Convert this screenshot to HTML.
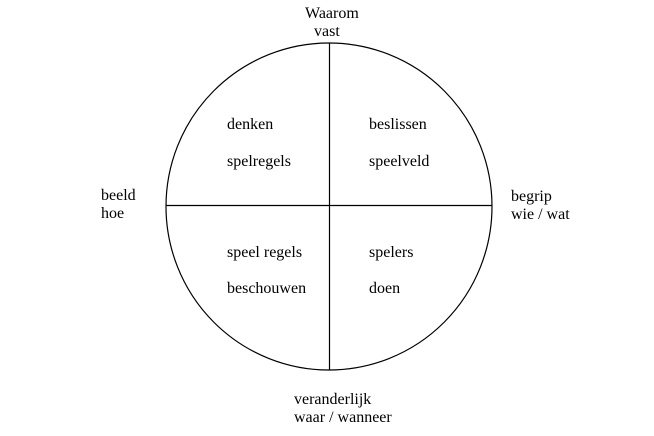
<!DOCTYPE html>
<html><head><meta charset="utf-8"><style>
html,body{margin:0;padding:0;background:#fff;}
svg text{font-family:"Liberation Serif",serif;font-size:16px;fill:#000;}
</style></head><body>
<svg width="654" height="431" xmlns="http://www.w3.org/2000/svg">
<ellipse cx="329" cy="206.5" rx="163" ry="163.5" fill="none" stroke="#000" stroke-width="1.2"/>
<line x1="329.5" y1="43" x2="329.5" y2="370" stroke="#000" stroke-width="1.2"/>
<line x1="166" y1="205.5" x2="492" y2="205.5" stroke="#000" stroke-width="1.2"/>
<text x="305" y="18">Waarom</text>
<text x="314" y="36">vast</text>
<text x="101" y="200">beeld</text>
<text x="101" y="218">hoe</text>
<text x="511" y="201">begrip</text>
<text x="511" y="219">wie / wat</text>
<text x="294" y="404">veranderlijk</text>
<text x="294" y="422">waar / wanneer</text>
<text x="227" y="129">denken</text>
<text x="227" y="166">spelregels</text>
<text x="369" y="129">beslissen</text>
<text x="369" y="166">speelveld</text>
<text x="227" y="257">speel regels</text>
<text x="227" y="293">beschouwen</text>
<text x="369" y="257">spelers</text>
<text x="369" y="293">doen</text>
</svg>
</body></html>
